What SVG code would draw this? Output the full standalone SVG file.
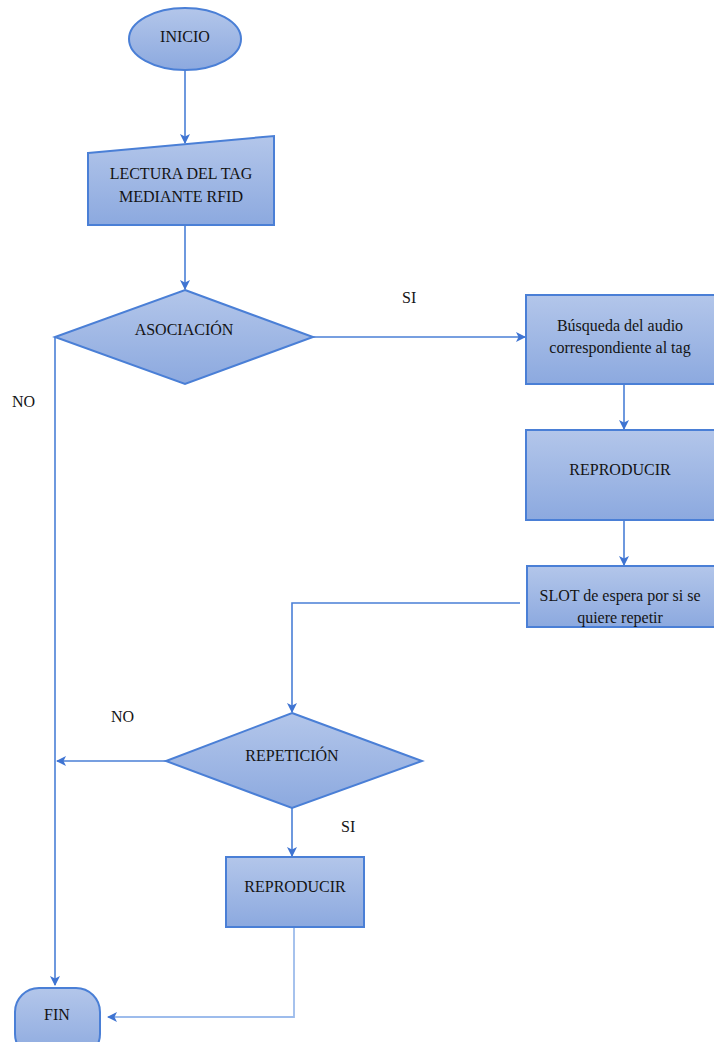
<svg xmlns="http://www.w3.org/2000/svg" width="714" height="1042" viewBox="0 0 714 1042">
<defs>
<linearGradient id="g" x1="0" y1="0" x2="0" y2="1">
<stop offset="0" stop-color="#b3c6ea"/>
<stop offset="1" stop-color="#8ca9df"/>
</linearGradient>
<marker id="ah" markerWidth="10" markerHeight="10" refX="9" refY="5" orient="auto" markerUnits="userSpaceOnUse">
<path d="M0,0 L10,5 L0,10 L2.5,5 Z" fill="#3f74d2"/>
</marker>
<style>
.n{fill:url(#g);stroke:#4a7fd6;stroke-width:2}
.t{font-family:"Liberation Serif","Times New Roman",serif;font-size:16px;fill:#141414;text-anchor:middle}
.l{font-family:"Liberation Serif","Times New Roman",serif;font-size:16px;fill:#141414}
.c{fill:none;stroke:#4a7fd6;stroke-width:1.6}
.c2{fill:none;stroke:#9dbcec;stroke-width:1.8}
</style>
</defs>
<rect width="714" height="1042" fill="#ffffff"/>
<g id="connectors">
<path class="c" d="M185,70 L185,143" marker-end="url(#ah)"/>
<path class="c" d="M185,225 L185,289" marker-end="url(#ah)"/>
<path class="c" d="M313,337 L525,337" marker-end="url(#ah)"/>
<path class="c" d="M55,337 L55,985" marker-end="url(#ah)"/>
<path class="c" d="M624,384 L624,429" marker-end="url(#ah)"/>
<path class="c" d="M624,520 L624,565" marker-end="url(#ah)"/>
<path class="c" d="M520,603 L292,603 L292,712" marker-end="url(#ah)"/>
<path class="c" d="M166,761 L57,761" marker-end="url(#ah)"/>
<path class="c" d="M292,808 L292,856" marker-end="url(#ah)"/>
<path class="c2" d="M294,927 L294,1017 L108,1017" marker-end="url(#ah)"/>
</g>
<g id="labels">
<text class="l" x="402" y="303">SI</text>
<text class="l" x="12" y="407">NO</text>
<text class="l" x="111" y="722">NO</text>
<text class="l" x="341" y="832">SI</text>
</g>
<g id="inicio">
<ellipse class="n" cx="185" cy="39" rx="56" ry="31"/>
<text class="t" x="185" y="42">INICIO</text>
</g>
<g id="lectura">
<polygon class="n" points="88,153 274,136 274,225 88,225"/>
<text class="t" x="181" y="179">LECTURA DEL TAG</text>
<text class="t" x="181" y="202">MEDIANTE RFID</text>
</g>
<g id="asociacion">
<polygon class="n" points="185,290 313,337 185,384 55,337"/>
<text class="t" x="184" y="335">ASOCIACIÓN</text>
</g>
<g id="busqueda">
<rect class="n" x="526" y="295" width="200" height="89"/>
<text class="t" x="620" y="331">Búsqueda del audio</text>
<text class="t" x="620" y="353">correspondiente al tag</text>
</g>
<g id="reproducir1">
<rect class="n" x="526" y="430" width="200" height="90"/>
<text class="t" x="620" y="475">REPRODUCIR</text>
</g>
<g id="slot">
<rect class="n" x="527" y="566" width="200" height="61"/>
<text class="t" x="620" y="601">SLOT de espera por si se</text>
<text class="t" x="620" y="623">quiere repetir</text>
</g>
<g id="repeticion">
<polygon class="n" points="292,713 422,761 292,808 166,761"/>
<text class="t" x="292" y="761">REPETICIÓN</text>
</g>
<g id="reproducir2">
<rect class="n" x="226" y="857" width="138" height="70"/>
<text class="t" x="295" y="892">REPRODUCIR</text>
</g>
<g id="fin">
<rect class="n" x="15" y="988" width="85" height="70" rx="24" ry="24"/>
<text class="t" x="57" y="1020">FIN</text>
</g>
</svg>
